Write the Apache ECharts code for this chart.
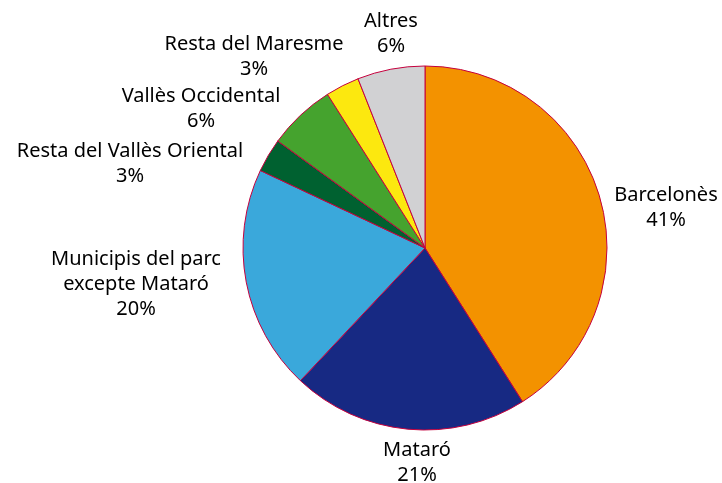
<!DOCTYPE html>
<html>
<head>
<meta charset="utf-8">
<script src="https://cdn.jsdelivr.net/npm/echarts@6/dist/echarts.min.js"></script>
<style>
    html, body { margin: 0; padding: 0; background: #fff; }
    #pie-chart { width: 722px; height: 483px; }
</style>
</head>
<body>
<div id="pie-chart"></div>
<script>
// dades
const names = [
    'Barcelonès',
    'Mataró',
    'Municipis del parc\nexcepte Mataró',
    'Resta del Vallès Oriental',
    'Vallès Occidental',
    'Resta del Maresme',
    'Altres'
];
const values = [41, 21, 20, 3, 6, 3, 6];
const colors = ['#f39200', '#172983', '#3aa8db', '#006130', '#45a32e', '#fce80f', '#d1d1d3'];

// posició de les etiquetes respecte al centre del pastís
const labelOffsets = [
    [241, -40],
    [-8, 215],
    [-289, 36],
    [-295, -84],
    [-224, -139],
    [-171, -191],
    [-34, -214]
];

const center = [425, 248];

const chart = echarts.init(document.getElementById('pie-chart'));

const option = {
    animation: false,
    color: colors,
    series: [
        {
            type: 'pie',
            center: center,
            radius: 182,
            startAngle: 90,
            clockwise: true,
            avoidLabelOverlap: false,
            itemStyle: {
                borderColor: '#c4003d',
                borderWidth: 1
            },
            label: {
                show: true,
                position: 'outside',
                formatter: p => p.name + '\n' + p.value + '%',
                fontFamily: 'Noto Sans',
                fontSize: 20,
                lineHeight: 25,
                color: '#000'
            },
            labelLine: { show: false },
            labelLayout: params => {
                const off = labelOffsets[params.dataIndex];
                return {
                    x: center[0] + off[0],
                    y: center[1] + off[1],
                    align: 'center',
                    verticalAlign: 'middle'
                };
            },
            data: names.map((n, i) => ({ name: n, value: values[i] }))
        }
    ]
};

chart.setOption(option);
</script>
</body>
</html>
